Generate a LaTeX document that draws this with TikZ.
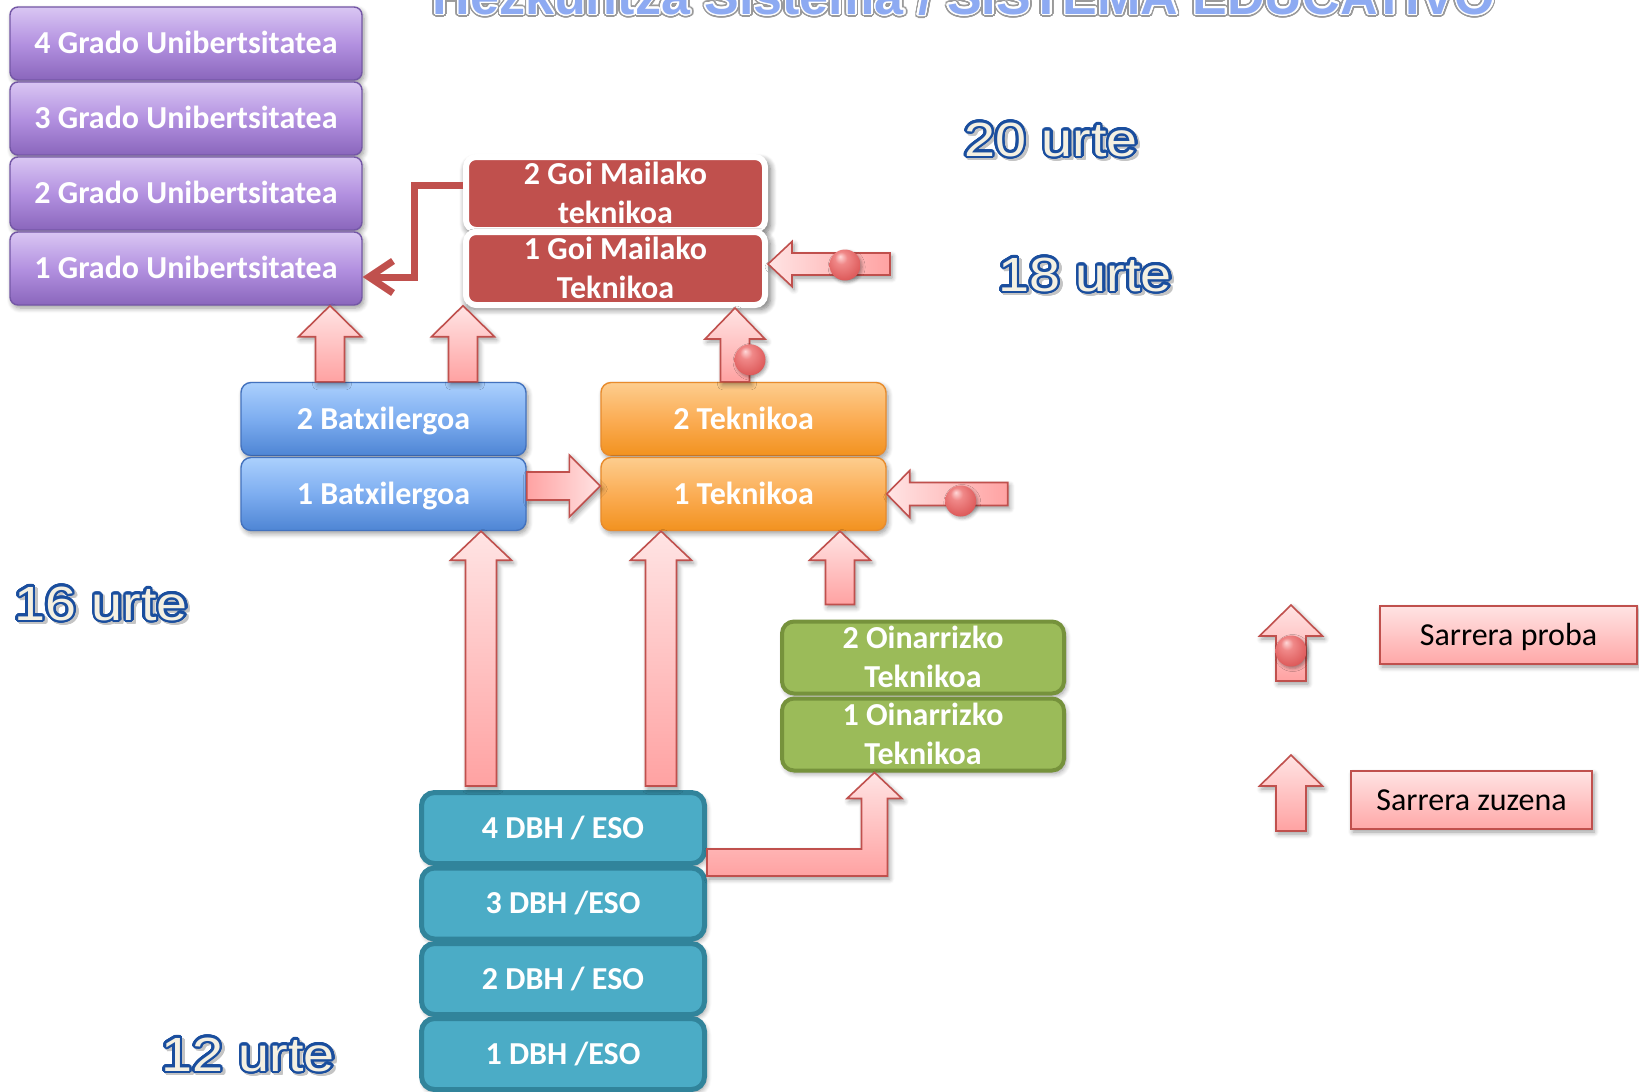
\documentclass[tikz,border=0pt]{standalone}
\usepackage{fontspec}
\setmainfont{Carlito}
\newfontfamily\urtefont{Liberation Sans}
\newfontfamily\headfont{Liberation Sans}
\usepackage{graphicx}
\usepackage{contour}
\contournumber{32}
\usetikzlibrary{calc,arrows.meta,shadows.blur}

\definecolor{gradotop}{HTML}{D9C6F3}
\definecolor{gradomid}{HTML}{B391E0}
\definecolor{gradobot}{HTML}{8A66BC}
\definecolor{gradoline}{HTML}{7457A6}
\definecolor{goired}{HTML}{C0504D}
\definecolor{batxtop}{HTML}{ABD0FD}
\definecolor{batxmid}{HTML}{7DADF0}
\definecolor{batxbot}{HTML}{4E85D4}
\definecolor{batxline}{HTML}{4372BE}
\definecolor{tektop}{HTML}{FDCD8E}
\definecolor{tekmid}{HTML}{FBAD55}
\definecolor{tekbot}{HTML}{F2921F}
\definecolor{tekline}{HTML}{E88B2C}
\definecolor{oinfill}{HTML}{9BBB59}
\definecolor{oinline}{HTML}{76923C}
\definecolor{dbhfill}{HTML}{4BACC6}
\definecolor{dbhline}{HTML}{31849B}
\definecolor{arrowlight}{HTML}{FFE4E4}
\definecolor{arrowdark}{HTML}{FFA2A2}
\definecolor{arrowline}{HTML}{C0504D}
\definecolor{ballhi}{HTML}{FFD8D8}
\definecolor{ballmid}{HTML}{F08888}
\definecolor{ballred}{HTML}{DD5A5A}
\definecolor{balledge}{HTML}{A83A3A}
\definecolor{legendtop}{HTML}{FFE3E3}
\definecolor{legendbot}{HTML}{FFA8A8}
\definecolor{agefill}{HTML}{F4F0E2}
\definecolor{ageline}{HTML}{1A4E9E}
\definecolor{ageshade}{HTML}{C4C4C4}
\definecolor{titleblue}{HTML}{8DAAF2}
\definecolor{titlegrey}{HTML}{9A9A9A}

% glossy red sphere for the entrance-test marker
\pgfdeclareradialshading{redsphere}{\pgfpoint{-8bp}{14bp}}{%
  color(0bp)=(ballhi); color(10bp)=(ballmid); color(30bp)=(ballred);
  color(46bp)=(balledge); color(50bp)=(balledge)}

% outlined age text: #1 = rim colour, #2 = text
\newcommand\urtetext[2]{%
  \scalebox{1.16}[1]{\urtefont\fontsize{24}{28}\selectfont\contourlength{1.1pt}\contour{#1}{#2}}}

\begin{document}
\begin{tikzpicture}[x=0.5pt, y=-0.5pt,
  softshadow/.style={blur shadow={shadow xshift=1pt, shadow yshift=-1.5pt,
      shadow blur radius=2.5pt, shadow blur steps=6, shadow opacity=40}},
  boxtext/.style={text=white, font=\fontsize{16}{19.2}\selectfont\bfseries,
      inner sep=0pt, text height=10.3pt, text depth=0pt},
  twoline/.style={text width=#1, align=flush center, text depth=19.2pt},
  gradobox/.style={boxtext, minimum width=176pt, minimum height=36.5pt,
      rounded corners=4pt, draw=gradoline, line width=0.7pt,
      top color=gradotop, bottom color=gradobot, middle color=gradomid, softshadow},
  goibox/.style={boxtext, twoline=140pt, minimum width=149.5pt, minimum height=36.5pt,
      rounded corners=5pt, fill=goired, draw=white, line width=3pt,
      blur shadow={shadow xshift=1.2pt, shadow yshift=-1.8pt,
      shadow blur radius=3pt, shadow blur steps=8, shadow opacity=55, shadow scale=1.02}},
  batxbox/.style={boxtext, minimum width=142.5pt, minimum height=36.5pt,
      rounded corners=5pt, draw=batxline, line width=0.7pt,
      top color=batxtop, bottom color=batxbot, middle color=batxmid, softshadow},
  tekbox/.style={boxtext, minimum width=142.5pt, minimum height=36.5pt,
      rounded corners=5pt, draw=tekline, line width=0.7pt,
      top color=tektop, bottom color=tekbot, middle color=tekmid, softshadow},
  oinbox/.style={boxtext, twoline=130pt, minimum width=141pt, minimum height=36pt,
      rounded corners=6pt, fill=oinfill, draw=oinline, line width=2pt, softshadow},
  dbhbox/.style={boxtext, minimum width=141.5pt, minimum height=35.5pt,
      rounded corners=6.5pt, fill=dbhfill, draw=dbhline, line width=2.5pt, softshadow},
  legendbox/.style={font=\fontsize{16}{19.2}\selectfont, text=black, inner sep=0pt,
      text height=10.3pt, text depth=0pt, minimum height=29pt,
      top color=legendtop, bottom color=legendbot, draw=arrowline, line width=0.8pt,
      softshadow},
  % block arrow from start to target: shaft width, head width, head length
  blockarrow/.style n args={3}{to path={
      let \p1=(\tikztostart), \p2=(\tikztotarget),
          \n1={atan2(\y2-\y1,\x2-\x1)}, \n2={veclen(\x2-\x1,\y2-\y1)} in
      ([shift={(\p1)},rotate=\n1]0pt,-#1/2)
      -- ([shift={(\p1)},rotate=\n1]\n2-#3,-#1/2)
      -- ([shift={(\p1)},rotate=\n1]\n2-#3,-#2/2)
      -- ([shift={(\p1)},rotate=\n1]\n2,0pt)
      -- ([shift={(\p1)},rotate=\n1]\n2-#3,#2/2)
      -- ([shift={(\p1)},rotate=\n1]\n2-#3,#1/2)
      -- ([shift={(\p1)},rotate=\n1]0pt,#1/2) -- cycle}},
  uppink/.style={draw=arrowline, line width=0.8pt, top color=arrowlight,
      bottom color=arrowdark, softshadow},
  leftpink/.style={draw=arrowline, line width=0.8pt, left color=arrowlight,
      right color=arrowdark, softshadow},
  rightpink/.style={draw=arrowline, line width=0.8pt, left color=arrowdark,
      right color=arrowlight, softshadow},
  ballmark/.style={circle, inner sep=0pt, minimum size=15.5pt, shading=redsphere,
      blur shadow={shadow xshift=0.8pt, shadow yshift=-1pt, shadow blur radius=1.5pt,
      shadow opacity=35}},
  redlink/.style={draw=goired, line width=3.5pt, line join=miter,
      -{Straight Barb[length=12pt,width=16pt]}},
  urte/.style={anchor=base west, inner sep=0pt},
]
\useasboundingbox (0,0) rectangle (1639,1092);

% heading, running off the top edge
\node[anchor=base, inner sep=0pt] (title) at (964,14)
  {\headfont\bfseries\fontsize{26}{30}\selectfont\contourlength{1.6pt}\color{white}%
   \contour{titlegrey}{Hezkuntza Sistema / SISTEMA EDUCATIVO}};
\node[anchor=base, inner sep=0pt] (titlefill) at (964,14)
  {\headfont\bfseries\fontsize{26}{30}\selectfont\contourlength{0.7pt}\color{titleblue}%
   \contour{white}{Hezkuntza Sistema / SISTEMA EDUCATIVO}};

% ages
\node[urte] (age20shade) at (966.5,158.5) {\color{ageshade}\urtetext{ageshade}{20 urte}};
\node[urte] (age20) at (964,156) {\color{agefill}\urtetext{ageline}{20 urte}};
\node[urte] (age18shade) at (1000.5,293.5) {\color{ageshade}\urtetext{ageshade}{18 urte}};
\node[urte] (age18) at (998,291) {\color{agefill}\urtetext{ageline}{18 urte}};
\node[urte] (age16shade) at (16.5,622.5) {\color{ageshade}\urtetext{ageshade}{16 urte}};
\node[urte] (age16) at (14,620) {\color{agefill}\urtetext{ageline}{16 urte}};
\node[urte] (age12shade) at (163.5,1073.5) {\color{ageshade}\urtetext{ageshade}{12 urte}};
\node[urte] (age12) at (161,1071) {\color{agefill}\urtetext{ageline}{12 urte}};

% university years
\node[gradobox] (grado4) at (186,43.5) {4 Grado Unibertsitatea};
\node[gradobox] (grado3) at (186,118.5) {3 Grado Unibertsitatea};
\node[gradobox] (grado2) at (186,193.5) {2 Grado Unibertsitatea};
\node[gradobox] (grado1) at (186,268.5) {1 Grado Unibertsitatea};

% higher technical cycle
\node[goibox] (goi2) at (615.5,193.5) {2 Goi Mailako\\teknikoa};
\node[goibox] (goi1) at (615.5,268.5) {1 Goi Mailako\\Teknikoa};

% bachillerato and middle technical cycle
\node[batxbox] (batx2) at (383.5,419) {2 Batxilergoa};
\node[batxbox] (batx1) at (383.5,494) {1 Batxilergoa};
\node[tekbox] (tek2) at (743.5,419) {2 Teknikoa};
\node[tekbox] (tek1) at (743.5,494) {1 Teknikoa};

% basic technical cycle
\node[oinbox] (oin2) at (923,657.5) {2 Oinarrizko\\Teknikoa};
\node[oinbox] (oin1) at (923,734.5) {1 Oinarrizko\\Teknikoa};

% secondary school
\node[dbhbox] (dbh4) at (563,828) {4 DBH / ESO};
\node[dbhbox] (dbh3) at (563,903.5) {3 DBH /ESO};
\node[dbhbox] (dbh2) at (563,979) {2 DBH / ESO};
\node[dbhbox] (dbh1) at (563,1054) {1 DBH /ESO};

% legend
\node[legendbox, minimum width=128.5pt] (proba) at (1508.5,635) {Sarrera proba\hspace{5pt}};
\node[legendbox, minimum width=120.5pt] (zuzena) at (1471.5,800) {Sarrera zuzena\hspace{6pt}};

% arrow end points
\coordinate (a1s) at ($(batx2.north)+(-53.5,0)$);
\coordinate (a1e) at (a1s |- grado1.south);
\coordinate (a2s) at ($(batx2.north)+(79.5,0)$);
\coordinate (a2e) at (a2s |- grado1.south);
\coordinate (a3s) at ($(tek2.north)+(-8.5,0)$);
\coordinate (a3e) at (a3s |- goi1.south);
\coordinate (a4e) at ($(goi1.east)+(0,-4.5)$);
\coordinate (a4s) at ($(a4e)+(122,0)$);
\coordinate (a5s) at ($(batx1.east)+(0,-8)$);
\coordinate (a5e) at (a5s -| tek1.west);
\coordinate (a6e) at (tek1.east);
\coordinate (a6s) at ($(a6e)+(121,0)$);
\coordinate (a7s) at ($(dbh4.north)+(-82,-4)$);
\coordinate (a7e) at (a7s |- batx1.south);
\coordinate (a8s) at ($(dbh4.north)+(98,-4)$);
\coordinate (a8e) at (a8s |- tek1.south);
\coordinate (a9s) at ($(oin2.north)+(-83,-15)$);
\coordinate (a9e) at (a9s |- tek1.south);
\coordinate (leg1s) at (1291,681);
\coordinate (leg1e) at (1291,605);
\coordinate (leg2s) at (1291,831);
\coordinate (leg2e) at (1291,755);

% block arrows
\path[uppink, blockarrow={14.5pt}{31.5pt}{15.5pt}] (a1s) to (a1e);
\path[uppink, blockarrow={14.5pt}{31.5pt}{15.5pt}] (a2s) to (a2e);
\path[uppink, blockarrow={14.5pt}{30pt}{15.5pt}] (a3s) to (a3e);
\path[leftpink, blockarrow={11pt}{22.5pt}{12pt}] (a4s) to (a4e);
\path[rightpink, blockarrow={14pt}{31pt}{15.5pt}] (a5s) to (a5e);
\path[leftpink, blockarrow={11.5pt}{23.5pt}{11.5pt}] (a6s) to (a6e);
\path[uppink, blockarrow={15.5pt}{30.5pt}{14.5pt}] (a7s) to (a7e);
\path[uppink, blockarrow={15.5pt}{30.5pt}{14.5pt}] (a8s) to (a8e);
\path[uppink, blockarrow={14.5pt}{30.5pt}{14.5pt}] (a9s) to (a9e);
\path[uppink, blockarrow={15pt}{31.5pt}{15.5pt}] (leg1s) to (leg1e);
\path[uppink, blockarrow={15pt}{31.5pt}{15.5pt}] (leg2s) to (leg2e);

% bent arrow from 4 DBH up to the basic technical cycle
\coordinate (l0) at ($(dbh4.east)+(0,21)$);
\coordinate (l1) at ($(l0)+(0,27)$);
\coordinate (lt) at ($(oin1.south)+(-48.5,0)$);
\coordinate (lvl) at ($(lt)+(-13,0)$);
\coordinate (lvr) at ($(lt)+(13,0)$);
\path[uppink] (l0) -- (l0 -| lvl) -- ($(lvl)+(0,26)$) -- ($(lt)+(-27.5,26)$)
  -- (lt) -- ($(lt)+(27.5,26)$) -- ($(lvr)+(0,26)$) -- (l1 -| lvr) -- (l1) -- cycle;

% entrance-test markers
\node[ballmark] (ball3) at ($(a3s)+(15,-22)$) {};
\node[ballmark] (ball4) at ($(a4s)+(-45,1)$) {};
\node[ballmark] (ball6) at ($(a6s)+(-47,7)$) {};
\node[ballmark] (ballkey) at ($(leg1s)+(0,-30)$) {};

% from the higher technical cycle into university
\coordinate (g2w) at ($(goi2.west)+(0,-8.5)$);
\coordinate (g1e) at ($(grado1.east)+(0,8.5)$);
\coordinate (bend) at ($(g1e)+(52,0)$);
\draw[redlink] (g2w) -| (bend) -- (g1e);
\end{tikzpicture}
\end{document}
